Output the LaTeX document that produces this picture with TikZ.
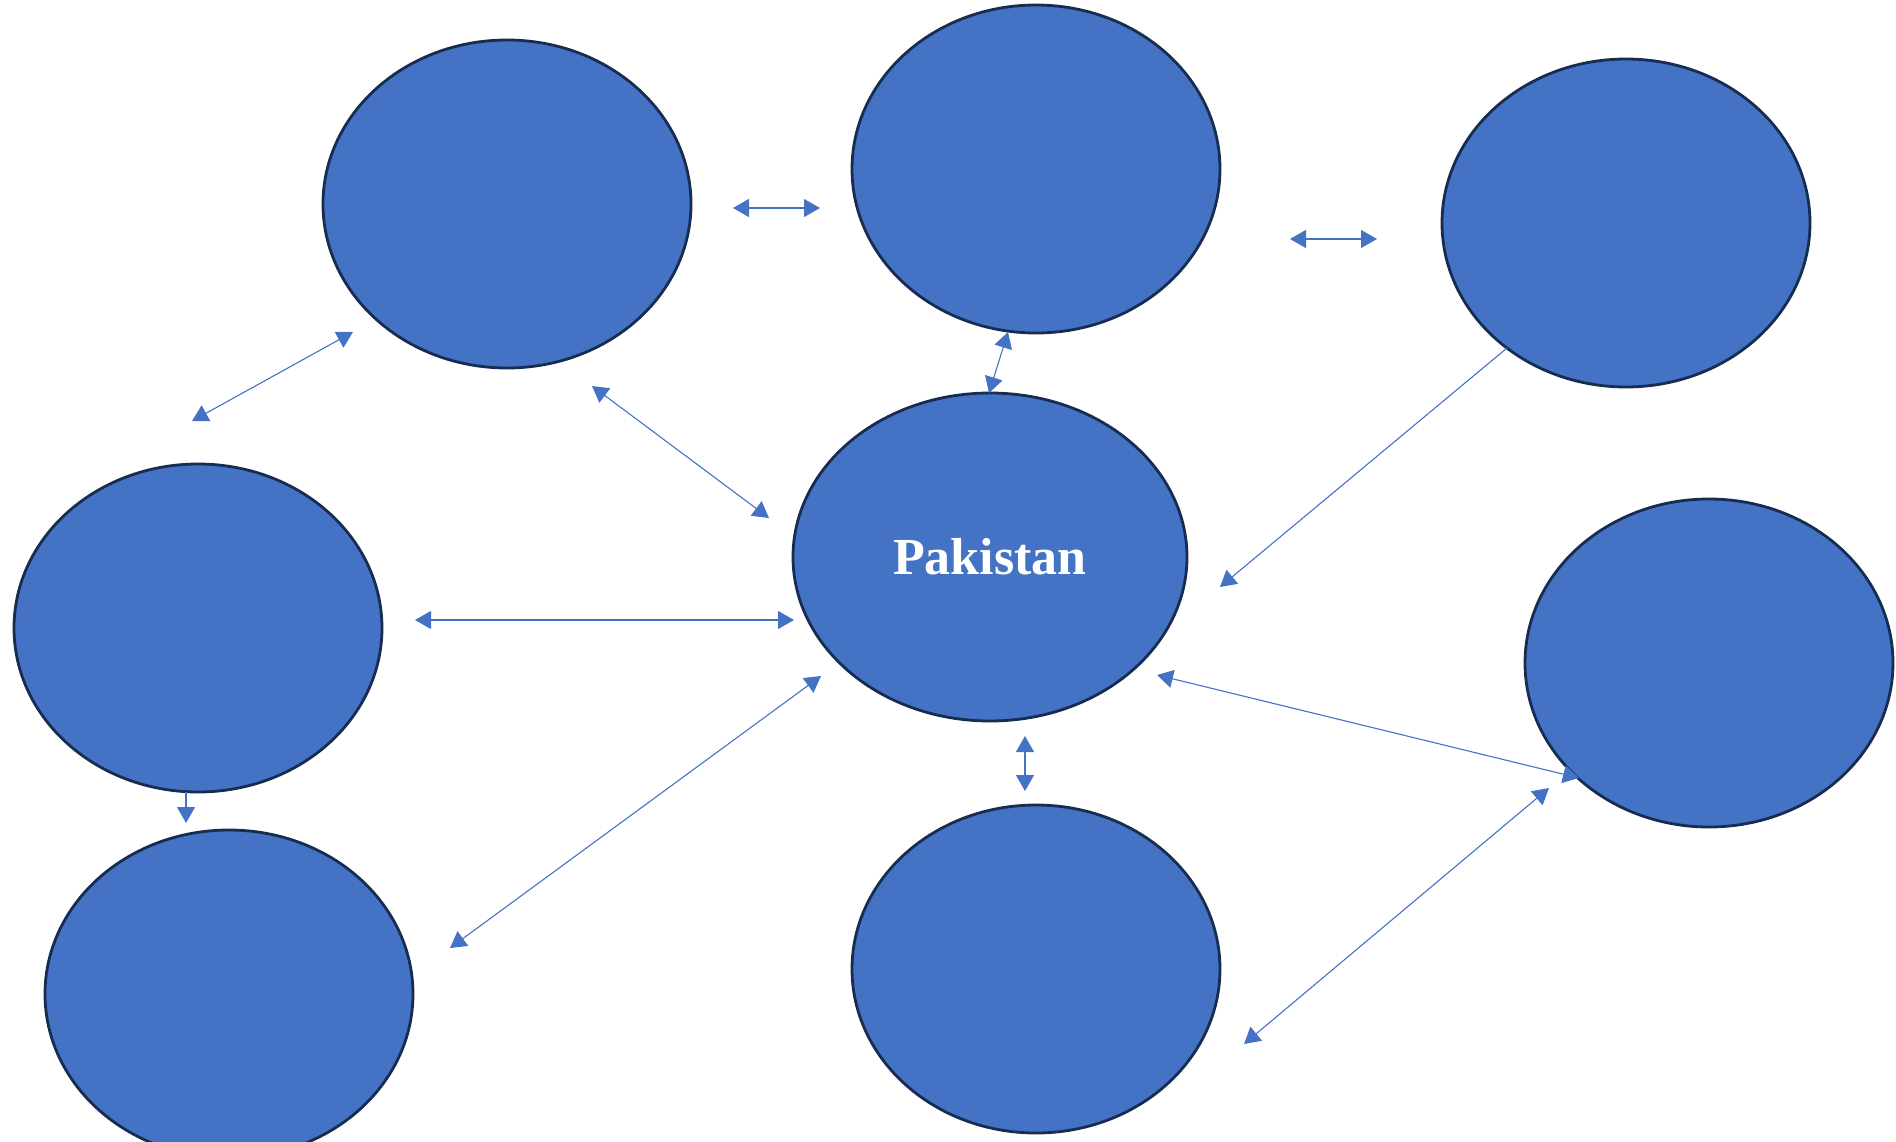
\documentclass[tikz,border=0pt]{standalone}
\usepackage{fontspec}
\setmainfont{Liberation Serif}
\usetikzlibrary{shapes.geometric,arrows.meta}
\definecolor{fillblue}{HTML}{4472C4}
\definecolor{edgenavy}{HTML}{172C51}
\tikzset{
  bubble/.style={ellipse, fill=fillblue, draw=edgenavy, line width=2.8pt,
    minimum width=368pt, minimum height=328pt, inner sep=0pt},
  link/.style={draw=fillblue, line width=1.1pt,
    {Triangle[length=16pt,width=18pt]}-{Triangle[length=16pt,width=18pt]}},
  onelink/.style={draw=fillblue, line width=1.1pt, -{Triangle[length=16pt,width=18pt]}}
}
\begin{document}
\begin{tikzpicture}[x=1pt,y=-1pt]
\useasboundingbox (0,0) rectangle (1896,1141);
\node[bubble] (tl) at (507,204) {};
\node[bubble] (tc) at (1036,169) {};
\node[bubble] (tr) at (1626,223) {};
\node[bubble, minimum width=394pt] (pk) at (990,557)
  {\color{white}\bfseries\fontsize{52}{60}\selectfont Pakistan};
\node[bubble] (ml) at (198,628) {};
\node[bubble] (mr) at (1709,663) {};
\node[bubble] (bl) at (229,994) {};
\node[bubble] (bc) at (1036,969) {};
% connector end points
\coordinate (a1) at (733,208);  \coordinate (a2) at (820,208);
\coordinate (b1) at (1290,239); \coordinate (b2) at (1377,239);
\coordinate (c1) at (1008,332); \coordinate (c2) at (989,393);
\coordinate (d1) at (353,332);  \coordinate (d2) at (192,421);
\coordinate (e1) at (592,386);  \coordinate (e2) at (769,518);
\coordinate (f1) at (1507,348); \coordinate (f2) at (1220,587);
\coordinate (g1) at (415,620);  \coordinate (g2) at (794,620);
\coordinate (h1) at (821,676);  \coordinate (h2) at (450,948);
\coordinate (i1) at (1025,736); \coordinate (i2) at (1025,791);
\coordinate (j1) at (1157,675); \coordinate (j2) at (1579,778);
\coordinate (k1) at (1549,788); \coordinate (k2) at (1244,1044);
\coordinate (l1) at (186,792);  \coordinate (l2) at (186,823);
\draw[link] (a1) -- (a2);
\draw[link] (b1) -- (b2);
\draw[link] (c1) -- (c2);
\draw[link] (d1) -- (d2);
\draw[link] (e1) -- (e2);
\draw[onelink] (f1) -- (f2);
\draw[link] (g1) -- (g2);
\draw[link] (h1) -- (h2);
\draw[link] (i1) -- (i2);
\draw[link] (j1) -- (j2);
\draw[link] (k1) -- (k2);
\draw[onelink] (l1) -- (l2);
\end{tikzpicture}
\end{document}
